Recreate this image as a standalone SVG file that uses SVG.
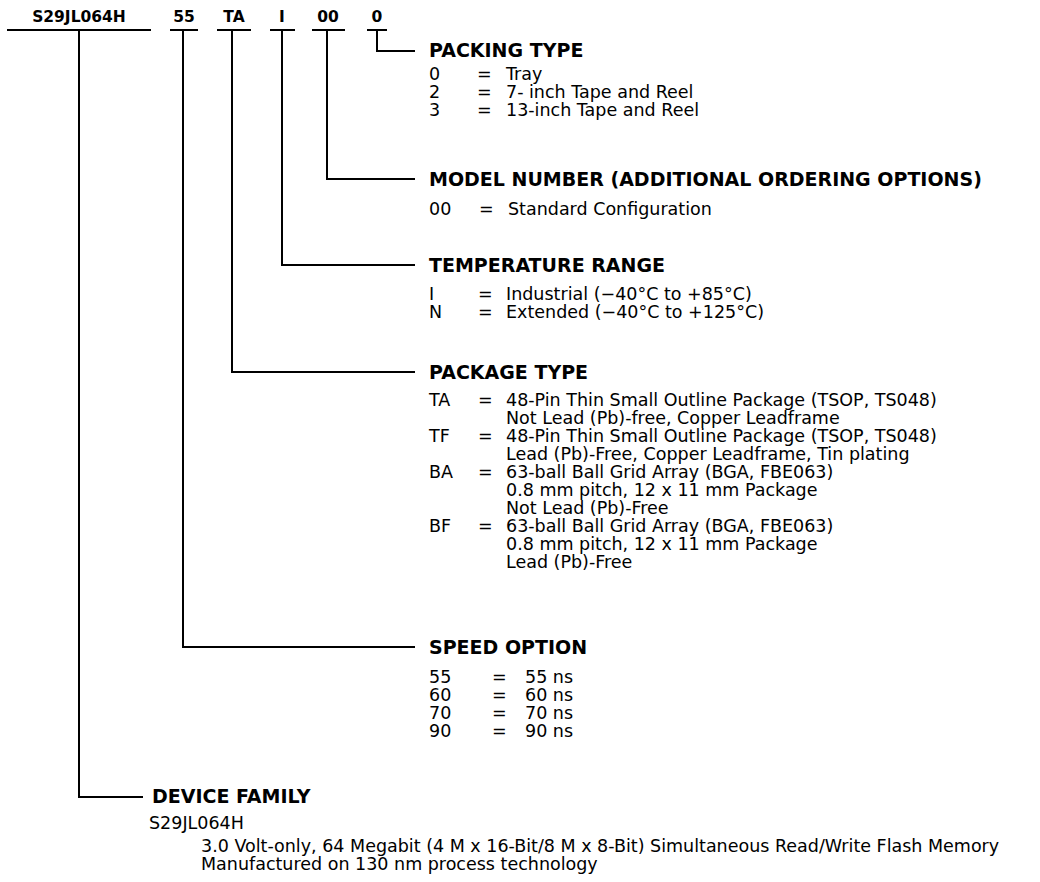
<svg xmlns="http://www.w3.org/2000/svg" width="1040" height="882" viewBox="0 0 1040 882">
<style>
text{font-family:"DejaVu Sans",Verdana,sans-serif;fill:#000}
.t{font-weight:bold;font-size:15.5px;text-anchor:middle}
.h{font-weight:bold;font-size:19px}
.b{font-size:17.5px}
.ln{stroke:#000;stroke-width:2;fill:none}
</style>
<rect width="1040" height="882" fill="#fff"/>
<g id="part-number">
<text class="t" x="79" y="22">S29JL064H</text>
<text class="t" x="184" y="22">55</text>
<text class="t" x="234" y="22">TA</text>
<text class="t" x="282" y="22">I</text>
<text class="t" x="328" y="22">00</text>
<text class="t" x="377" y="22">0</text>
<path class="ln" d="M7,30H151M170,30H198M217,30H251M270,30H295M312,30H345M367,30H387"/>
</g>
<g id="connectors">
<path class="ln" d="M377,30V51H415"/>
<path class="ln" d="M327,30V179H415"/>
<path class="ln" d="M282,30V265H415"/>
<path class="ln" d="M232,30V372H415"/>
<path class="ln" d="M183,30V647H415"/>
<path class="ln" d="M79,30V797H143"/>
</g>
<g id="packing-type">
<text class="h" x="429" y="57">PACKING TYPE</text>
<text class="b" x="429" y="80">0</text><text class="b" x="477" y="80">=</text><text class="b" x="506" y="80">Tray</text>
<text class="b" x="429" y="98">2</text><text class="b" x="477" y="98">=</text><text class="b" x="506" y="98">7- inch Tape and Reel</text>
<text class="b" x="429" y="116">3</text><text class="b" x="477" y="116">=</text><text class="b" x="506" y="116">13-inch Tape and Reel</text>
</g>
<g id="model-number">
<text class="h" x="429" y="186">MODEL NUMBER (ADDITIONAL ORDERING OPTIONS)</text>
<text class="b" x="429" y="215">00</text><text class="b" x="479" y="215">=</text><text class="b" x="508" y="215">Standard Configuration</text>
</g>
<g id="temperature-range">
<text class="h" x="429" y="272">TEMPERATURE RANGE</text>
<text class="b" x="429" y="300">I</text><text class="b" x="478" y="300">=</text><text class="b" x="506" y="300">Industrial (−40°C to +85°C)</text>
<text class="b" x="429" y="318">N</text><text class="b" x="478" y="318">=</text><text class="b" x="506" y="318">Extended (−40°C to +125°C)</text>
</g>
<g id="package-type">
<text class="h" x="429" y="379">PACKAGE TYPE</text>
<text class="b" x="429" y="406">TA</text><text class="b" x="478" y="406">=</text><text class="b" x="506" y="406">48-Pin Thin Small Outline Package (TSOP, TS048)</text>
<text class="b" x="506" y="424">Not Lead (Pb)-free, Copper Leadframe</text>
<text class="b" x="429" y="442">TF</text><text class="b" x="478" y="442">=</text><text class="b" x="506" y="442">48-Pin Thin Small Outline Package (TSOP, TS048)</text>
<text class="b" x="506" y="460">Lead (Pb)-Free, Copper Leadframe, Tin plating</text>
<text class="b" x="429" y="478">BA</text><text class="b" x="478" y="478">=</text><text class="b" x="506" y="478">63-ball Ball Grid Array (BGA, FBE063)</text>
<text class="b" x="506" y="496">0.8 mm pitch, 12 x 11 mm Package</text>
<text class="b" x="506" y="514">Not Lead (Pb)-Free</text>
<text class="b" x="429" y="532">BF</text><text class="b" x="478" y="532">=</text><text class="b" x="506" y="532">63-ball Ball Grid Array (BGA, FBE063)</text>
<text class="b" x="506" y="550">0.8 mm pitch, 12 x 11 mm Package</text>
<text class="b" x="506" y="568">Lead (Pb)-Free</text>
</g>
<g id="speed-option">
<text class="h" x="429" y="654">SPEED OPTION</text>
<text class="b" x="429" y="683">55</text><text class="b" x="492" y="683">=</text><text class="b" x="525" y="683">55 ns</text>
<text class="b" x="429" y="701">60</text><text class="b" x="492" y="701">=</text><text class="b" x="525" y="701">60 ns</text>
<text class="b" x="429" y="719">70</text><text class="b" x="492" y="719">=</text><text class="b" x="525" y="719">70 ns</text>
<text class="b" x="429" y="737">90</text><text class="b" x="492" y="737">=</text><text class="b" x="525" y="737">90 ns</text>
</g>
<g id="device-family">
<text class="h" x="152" y="803">DEVICE FAMILY</text>
<text class="b" x="149" y="829">S29JL064H</text>
<text class="b" x="201" y="852">3.0 Volt-only, 64 Megabit (4 M x 16-Bit/8 M x 8-Bit) Simultaneous Read/Write Flash Memory</text>
<text class="b" x="201" y="870">Manufactured on 130 nm process technology</text>
</g>
</svg>
